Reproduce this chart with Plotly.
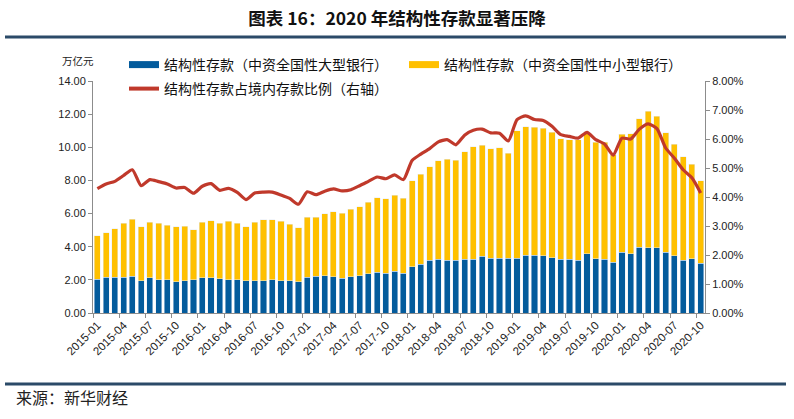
import plotly.graph_objects as go

months = [f"{y}-{m:02d}" for y in range(2015, 2021) for m in range(1, 13)][:70]

large_banks = [2.04, 2.16, 2.16, 2.16, 2.22, 1.96, 2.12, 2.00, 2.00, 1.90, 1.96, 2.00,
               2.12, 2.12, 2.06, 2.00, 2.00, 1.96, 1.96, 1.96, 2.00, 1.96, 1.96, 1.90,
               2.16, 2.22, 2.26, 2.20, 2.10, 2.20, 2.26, 2.36, 2.46, 2.40, 2.53, 2.40,
               2.79, 2.95, 3.19, 3.23, 3.19, 3.19, 3.23, 3.23, 3.41, 3.29, 3.29, 3.29,
               3.31, 3.49, 3.49, 3.45, 3.33, 3.23, 3.23, 3.19, 3.58, 3.27, 3.23, 3.07,
               3.66, 3.58, 3.98, 3.94, 3.94, 3.68, 3.45, 3.19, 3.27, 3.01]

small_banks = [2.61, 2.69, 2.93, 3.25, 3.44, 3.25, 3.37, 3.41, 3.31, 3.29, 3.29, 3.01,
               3.37, 3.46, 3.37, 3.53, 3.43, 3.23, 3.53, 3.68, 3.64, 3.57, 3.41, 3.23,
               3.62, 3.56, 3.72, 3.90, 3.92, 4.06, 4.14, 4.31, 4.49, 4.49, 4.58, 4.53,
               5.19, 5.41, 5.64, 5.96, 6.10, 6.04, 6.51, 6.79, 6.71, 6.61, 6.67, 6.35,
               7.70, 7.74, 7.72, 7.70, 7.58, 7.28, 7.23, 7.25, 7.27, 7.03, 7.07, 6.49,
               7.13, 7.25, 7.74, 8.24, 7.92, 7.21, 6.73, 6.24, 5.72, 4.97]

ratio_pct = [4.29, 4.45, 4.54, 4.74, 4.94, 4.39, 4.60, 4.53, 4.45, 4.31, 4.33, 4.13,
             4.37, 4.46, 4.23, 4.30, 4.16, 3.91, 4.14, 4.17, 4.17, 4.07, 3.95, 3.75,
             4.18, 4.08, 4.20, 4.28, 4.21, 4.25, 4.39, 4.54, 4.69, 4.63, 4.76, 4.60,
             5.26, 5.48, 5.67, 5.90, 5.98, 5.80, 6.13, 6.30, 6.34, 6.21, 6.20, 5.93,
             6.67, 6.80, 6.67, 6.64, 6.44, 6.15, 6.09, 6.03, 6.23, 5.98, 5.83, 5.44,
             6.03, 6.00, 6.34, 6.52, 6.36, 5.69, 5.34, 4.94, 4.66, 4.14]

left_ticks = [0, 2, 4, 6, 8, 10, 12, 14]
right_ticks = [0, 1, 2, 3, 4, 5, 6, 7, 8]

name_large = "结构性存款（中资全国性大型银行）"
name_small = "结构性存款（中资全国性中小型银行）"
name_ratio = "结构性存款占境内存款比例（右轴）"

BLUE = "#035B9C"
YELLOW = "#FFC000"
RED = "#C0392B"
NAVY = "#2B4A68"
AXIS = "#8C8C8C"
FONT = "Noto Sans CJK SC"
NUMFONT = "Liberation Sans"

# the page body margin is removed below, so the figure sits at (0, 0)
OFF = 0
W, H = 794, 419
# plot area in screen pixels: x 93..705, y 81..313
L = 93 - OFF
T = 81 - OFF
R = W - (705 - OFF)
B = H - (313 - OFF)
pw, ph = W - L - R, H - T - B


def px_x(x):
    return (x - OFF - L) / pw


def px_y(y):
    return (H - B - (y - OFF)) / ph


fig = go.Figure()
fig.add_trace(go.Bar(x=months, y=large_banks, name=name_large, marker_color=BLUE,
                     showlegend=False))
fig.add_trace(go.Bar(x=months, y=small_banks, name=name_small, marker_color=YELLOW,
                     showlegend=False))
fig.add_trace(go.Scatter(x=months, y=[v / 100 for v in ratio_pct], name=name_ratio,
                         mode="lines", yaxis="y2",
                         line=dict(color=RED, width=3.2, shape="spline", smoothing=0.6),
                         showlegend=False))
# legend entries
fig.add_trace(go.Scatter(x=[None], y=[None], mode="lines", name=name_large,
                         line=dict(color=BLUE, width=7), legend="legend"))
fig.add_trace(go.Scatter(x=[None], y=[None], mode="lines", name=name_small,
                         line=dict(color=YELLOW, width=7), legend="legend"))
fig.add_trace(go.Scatter(x=[None], y=[None], mode="lines", name=name_ratio,
                         line=dict(color=RED, width=4), legend="legend2"))

legend_common = dict(orientation="h", xanchor="left", yanchor="middle",
                     entrywidth=235, entrywidthmode="pixels", itemwidth=30,
                     font=dict(size=14, family=FONT, color="#111111"),
                     bgcolor="rgba(0,0,0,0)", traceorder="normal")

fig.update_layout(
    width=W, height=H,
    margin=dict(l=L, r=R, t=T, b=B, autoexpand=False),
    barmode="stack", bargap=0.3,
    plot_bgcolor="white", paper_bgcolor="white",
    font=dict(family=FONT, size=10, color="#222222"),
    title=dict(text="<b>图表 16：2020 年结构性存款显著压降</b>", x=0.5, xanchor="center",
               y=1 - (19 - OFF) / H, yanchor="middle",
               font=dict(size=17.5, color="#111111")),
    xaxis=dict(type="category", categoryorder="array", categoryarray=months,
               dtick=3, tickangle=-45, tickson="boundaries",
               ticks="outside", ticklen=4, tickcolor=AXIS,
               showline=True, linecolor=AXIS, linewidth=1,
               showgrid=False, tickfont=dict(size=11.5, family=NUMFONT, color="#222222")),
    yaxis=dict(range=[0, 14], tickvals=left_ticks,
               ticktext=[f"{v:.2f}" for v in left_ticks],
               ticks="outside", ticklen=4, tickcolor=AXIS,
               showline=True, linecolor=AXIS, linewidth=1,
               showgrid=False, zeroline=False,
               tickfont=dict(size=11, family=NUMFONT, color="#222222")),
    yaxis2=dict(range=[0, 0.08], overlaying="y", side="right",
                tickvals=[v / 100 for v in right_ticks],
                ticktext=[f"{v:.2f}%" for v in right_ticks],
                ticks="outside", ticklen=4, tickcolor=AXIS,
                showline=True, linecolor=AXIS, linewidth=1,
                showgrid=False, zeroline=False,
                tickfont=dict(size=11, family=NUMFONT, color="#222222")),
    legend=dict(x=px_x(124), y=px_y(65), **legend_common),
    legend2=dict(x=px_x(124), y=px_y(89), **legend_common),
    shapes=[
        dict(type="line", xref="paper", yref="paper", x0=px_x(5), x1=px_x(786),
             y0=px_y(37), y1=px_y(37), line=dict(color=NAVY, width=3)),
        dict(type="line", xref="paper", yref="paper", x0=px_x(5), x1=px_x(786),
             y0=px_y(384), y1=px_y(384), line=dict(color=NAVY, width=3)),
    ],
    annotations=[
        dict(text="万亿元", xref="paper", yref="paper", x=px_x(78), y=px_y(61),
             xanchor="center", yanchor="middle", showarrow=False,
             font=dict(size=10.5, family=FONT, color="#222222")),
        dict(text="来源：新华财经", xref="paper", yref="paper", x=px_x(14), y=px_y(397),
             xanchor="left", yanchor="middle", showarrow=False,
             font=dict(size=16, family=FONT, color="#222222")),
    ],
)

fig.write_html("out.html", config={"displayModeBar": False},
               post_script="document.body.style.margin = '0';")
